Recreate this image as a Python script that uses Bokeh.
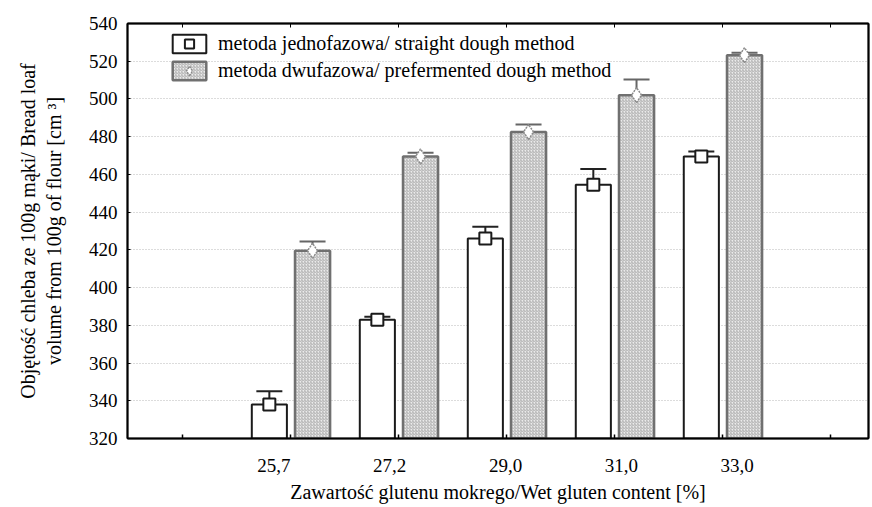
import numpy as np
from bokeh.plotting import figure
from bokeh.models import (Range1d, FixedTicker, LinearAxis, Whisker, TeeHead,
                          ColumnDataSource, Legend, LegendItem)
from bokeh.embed import file_html
from bokeh.resources import INLINE

# ---- data ----
categories = ["25,7", "27,2", "29,0", "31,0", "33,0"]
straight_mean = [338.0, 383.0, 426.0, 454.5, 469.5]
straight_err = [7.0, 1.5, 6.3, 8.4, 2.7]
preferm_mean = [419.5, 469.5, 482.5, 502.0, 523.2]
preferm_err = [5.0, 2.0, 4.0, 8.3, 1.3]
y_ticks = list(range(320, 541, 20))

FONT = "'Liberation Serif', 'DejaVu Serif', serif"
idx = np.arange(1, len(categories) + 1)
off = 0.2
bw = 0.325
frame_ticks = list(range(0, 7))
blank_x = {t: "" for t in frame_ticks}
blank_y = {t: "" for t in y_ticks}

s1 = ColumnDataSource(dict(x=idx - off, top=straight_mean,
                           lo=np.array(straight_mean) - np.array(straight_err),
                           hi=np.array(straight_mean) + np.array(straight_err)))
s2 = ColumnDataSource(dict(x=idx + off, top=preferm_mean,
                           lo=np.array(preferm_mean) - np.array(preferm_err),
                           hi=np.array(preferm_mean) + np.array(preferm_err)))

p = figure(width=870, height=505, x_range=Range1d(-0.5135, 6.348),
           y_range=Range1d(320, 540), output_backend="svg", toolbar_location=None,
           min_border_left=127, min_border_top=23, min_border_right=2,
           min_border_bottom=67)
p.extra_x_ranges = {"lab": Range1d(-0.2641, 6.1335)}

p.outline_line_color = "black"
p.outline_line_width = 1.5
p.xgrid.visible = False
p.ygrid.ticker = FixedTicker(ticks=y_ticks)
p.ygrid.grid_line_color = "#b8b8b8"
p.ygrid.grid_line_dash = "1 2"
p.ygrid.grid_line_width = 1

# bottom tick axis (no labels)
ax = p.xaxis[0]
ax.ticker = FixedTicker(ticks=frame_ticks)
ax.major_label_overrides = blank_x
ax.major_label_standoff = 0
ax.major_tick_in = 4
ax.major_tick_out = 0
ax.minor_tick_line_color = None
ax.axis_line_width = 2
ax.major_tick_line_width = 1.5

# label axis below
lab = LinearAxis(x_range_name="lab", ticker=FixedTicker(ticks=list(idx)),
                 major_label_overrides={int(i): c for i, c in zip(idx, categories)})
lab.axis_line_color = None
lab.major_tick_line_color = None
lab.minor_tick_line_color = None
lab.major_label_standoff = 14
lab.major_label_text_font = FONT
lab.major_label_text_font_size = "19px"
lab.major_label_text_color = "black"
lab.axis_label = "Zawartość glutenu mokrego/Wet gluten content [%]"
lab.axis_label_text_font = FONT
lab.axis_label_text_font_size = "20px"
lab.axis_label_text_font_style = "normal"
lab.axis_label_text_color = "black"
lab.axis_label_standoff = 6
p.add_layout(lab, "below")

# top axis
top = LinearAxis(ticker=FixedTicker(ticks=frame_ticks))
top.major_label_overrides = blank_x
top.major_label_standoff = 0
top.major_tick_in = 4
top.major_tick_out = 0
top.minor_tick_line_color = None
top.axis_line_width = 2
p.add_layout(top, "above")

# y axis
ya = p.yaxis[0]
ya.ticker = FixedTicker(ticks=y_ticks)
ya.major_tick_in = 3
ya.major_tick_out = 0
ya.minor_tick_line_color = None
ya.axis_line_width = 2
ya.major_label_standoff = 10
ya.major_label_text_font = FONT
ya.major_label_text_font_size = "19px"
ya.major_label_text_color = "black"
ya.axis_label = "Objętość chleba ze 100g mąki/ Bread loaf\nvolume from 100g of flour [cm ³]"
ya.axis_label_text_font = FONT
ya.axis_label_text_font_size = "20px"
ya.axis_label_text_font_style = "normal"
ya.axis_label_text_color = "black"
ya.axis_label_standoff = 21

right = LinearAxis(ticker=FixedTicker(ticks=y_ticks))
right.major_label_overrides = blank_y
right.major_label_standoff = 0
right.major_tick_in = 0
right.major_tick_out = 0
right.minor_tick_line_color = None
right.axis_line_width = 2
p.add_layout(right, "right")

# bars
b1 = p.vbar(x="x", top="top", bottom=320, width=bw, source=s1,
            fill_color="white", line_color="#1a1a1a", line_width=2)
b2 = p.vbar(x="x", top="top", bottom=320, width=bw, source=s2,
            fill_color="#ebebeb", line_color="#707070", line_width=2.5,
            hatch_pattern="right_diagonal_line", hatch_color="#a0a0a0",
            hatch_scale=3, hatch_weight=0.8)

# error bars
w1 = Whisker(source=s1, base="x", lower="lo", upper="hi",
             line_color="#222222", line_width=2,
             upper_head=TeeHead(size=26, line_color="#222222", line_width=2),
             lower_head=TeeHead(size=26, line_color="#222222", line_width=2))
w2 = Whisker(source=s2, base="x", lower="lo", upper="hi",
             line_color="#666666", line_width=2,
             upper_head=TeeHead(size=26, line_color="#666666", line_width=2),
             lower_head=TeeHead(size=26, line_color="#666666", line_width=2))
p.add_layout(w1)
p.add_layout(w2)

# markers
m1 = p.scatter(x="x", y="top", source=s1, marker="square", size=12,
               fill_color="white", line_color="#1a1a1a", line_width=2)
m2 = p.scatter(x="x", y="top", source=s2, marker="diamond", size=15,
               fill_color="white", line_color="#8a8a8a", line_width=1.5,
               line_dash="2 1")

legend = Legend(items=[
    LegendItem(label="metoda jednofazowa/ straight dough method", renderers=[b1, m1]),
    LegendItem(label="metoda dwufazowa/ prefermented dough method", renderers=[b2, m2]),
], location=(41, 356))
legend.glyph_width = 42
legend.glyph_height = 23
legend.label_height = 23
legend.spacing = 4
legend.padding = 0
legend.margin = 0
legend.label_standoff = 8
legend.label_text_font = FONT
legend.label_text_font_size = "20px"
legend.label_text_color = "black"
legend.border_line_color = None
legend.background_fill_alpha = 0
p.add_layout(legend, "center")

open("out.html", "w").write(file_html(p, INLINE))
